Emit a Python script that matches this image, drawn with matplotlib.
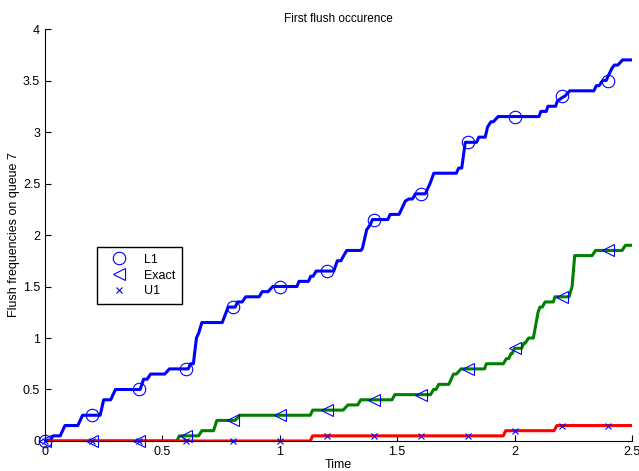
import matplotlib
matplotlib.use("Agg")
import matplotlib.pyplot as plt
from matplotlib.ticker import FormatStrFormatter
import numpy as np

plt.rcParams['font.family'] = ['Liberation Sans', 'DejaVu Sans']

# L1 curve (blue) polyline vertices
l1_t = [0, 0.02, 0.035, 0.065, 0.085, 0.14, 0.16, 0.235, 0.25, 0.28, 0.30, 0.405, 0.42, 0.435, 0.45, 0.51,
        0.53, 0.61, 0.62, 0.632, 0.645, 0.655, 0.668, 0.755, 0.78, 0.81, 0.82, 0.84, 0.855, 0.912, 0.925,
        0.95, 0.97, 1.073, 1.082, 1.122, 1.132, 1.142, 1.155, 1.23, 1.245, 1.26, 1.285, 1.345, 1.352, 1.37,
        1.385, 1.395, 1.46, 1.47, 1.508, 1.535, 1.55, 1.565, 1.578, 1.62, 1.64, 1.656, 1.752, 1.762, 1.775,
        1.79, 1.838, 1.848, 1.875, 1.885, 1.9, 1.91, 1.93, 2.104, 2.112, 2.135, 2.142, 2.175, 2.182, 2.2,
        2.215, 2.235, 2.338, 2.348, 2.36, 2.375, 2.39, 2.4, 2.415, 2.425, 2.44, 2.46, 2.5]
l1_v = [0, 0, 0.05, 0.05, 0.15, 0.15, 0.25, 0.25, 0.4, 0.4, 0.5, 0.5, 0.6, 0.6, 0.65, 0.65,
        0.7, 0.7, 0.75, 0.75, 1.0, 1.05, 1.15, 1.15, 1.3, 1.3, 1.35, 1.35, 1.4, 1.4, 1.45,
        1.45, 1.5, 1.5, 1.55, 1.55, 1.6, 1.6, 1.65, 1.65, 1.75, 1.75, 1.85, 1.85, 1.87, 2.05,
        2.1, 2.15, 2.15, 2.2, 2.2, 2.33, 2.35, 2.35, 2.4, 2.4, 2.5, 2.6, 2.6, 2.65, 2.65,
        2.9, 2.9, 2.95, 2.95, 3.05, 3.1, 3.1, 3.15, 3.15, 3.2, 3.2, 3.25, 3.25, 3.3, 3.33,
        3.35, 3.4, 3.4, 3.45, 3.45, 3.5, 3.5, 3.55, 3.62, 3.65, 3.65, 3.7, 3.7]

# Exact curve (green)
ex_t = [0, 0.562, 0.572, 0.654, 0.668, 0.718, 0.732, 0.81, 0.83, 1.13, 1.14, 1.27, 1.29, 1.332, 1.345,
        1.478, 1.49, 1.642, 1.655, 1.665, 1.677, 1.72, 1.74, 1.752, 1.772, 1.872, 1.88, 1.952, 1.965,
        1.975, 1.985, 1.99, 2.0, 2.03, 2.04, 2.045, 2.06, 2.08, 2.088, 2.1, 2.108, 2.118, 2.13, 2.165,
        2.172, 2.232, 2.245, 2.256, 2.33, 2.345, 2.458, 2.472, 2.5]
ex_v = [0, 0, 0.05, 0.05, 0.1, 0.1, 0.2, 0.2, 0.25, 0.25, 0.3, 0.3, 0.35, 0.35, 0.4,
        0.4, 0.45, 0.45, 0.5, 0.5, 0.55, 0.55, 0.65, 0.65, 0.7, 0.7, 0.75, 0.75, 0.8,
        0.8, 0.85, 0.85, 0.9, 0.9, 0.95, 0.95, 1.0, 1.0, 1.1, 1.25, 1.3, 1.3, 1.35, 1.35,
        1.4, 1.4, 1.5, 1.8, 1.8, 1.85, 1.85, 1.9, 1.9]

# U1 curve (red)
u1_t = [0, 1.13, 1.14, 1.952, 1.962, 2.168, 2.18, 2.5]
u1_v = [0, 0, 0.05, 0.05, 0.1, 0.1, 0.15, 0.15]

# Marker samples
mk_t = [0, 0.2, 0.4, 0.6, 0.8, 1.0, 1.2, 1.4, 1.6, 1.8, 2.0, 2.2, 2.4]
mk_l1 = [0, 0.25, 0.5, 0.7, 1.3, 1.5, 1.65, 2.15, 2.4, 2.9, 3.15, 3.35, 3.5]
mk_ex = [0, 0, 0, 0.05, 0.2, 0.25, 0.3, 0.4, 0.45, 0.7, 0.9, 1.4, 1.85]
mk_u1 = [0, 0, 0, 0, 0, 0, 0.05, 0.05, 0.05, 0.05, 0.1, 0.15, 0.15]

fig = plt.figure(figsize=(6.39, 4.71), dpi=100)
ax = fig.add_axes([0.0704, 0.0637, 0.9186, 0.8747])

lw = 2.2
ax.plot(l1_t, l1_v, color=(0, 0, 1), lw=lw)
ax.plot(ex_t, ex_v, color=(0, 0.5, 0), lw=lw)
ax.plot(u1_t, u1_v, color=(1, 0, 0), lw=lw)

ax.plot(mk_t, mk_l1, ls='none', marker='o', ms=9, mfc='none', mec=(0, 0, 1), mew=0.8, label='L1', clip_on=False)
ax.plot(mk_t, mk_ex, ls='none', marker='<', ms=9, mfc='none', mec=(0, 0, 1), mew=0.8, label='Exact', clip_on=False)
ax.plot(mk_t, mk_u1, ls='none', marker='x', ms=4, mfc='none', mec=(0, 0, 1), mew=0.8, label='U1', clip_on=False)

ax.set_xlim(0, 2.5)
ax.set_ylim(0, 4)
ax.set_xticks(np.arange(0, 2.51, 0.5))
ax.set_yticks(np.arange(0, 4.01, 0.5))
ax.xaxis.set_major_formatter(FormatStrFormatter('%g'))
ax.yaxis.set_major_formatter(FormatStrFormatter('%g'))
ax.tick_params(direction='in', length=4, width=0.8, labelsize=9, colors='black')
for s in ['top', 'right']:
    ax.spines[s].set_visible(False)
for s in ['left', 'bottom']:
    ax.spines[s].set_linewidth(0.8)

ax.set_title('First flush occurence', fontsize=8.5, pad=5)
ax.set_xlabel('Time', fontsize=9, labelpad=1)
ax.set_ylabel('Flush frequencies on queue 7', fontsize=9, labelpad=2)

leg = ax.legend(loc='upper left', bbox_to_anchor=(0.089, 0.471), fontsize=9, frameon=True,
                fancybox=False, edgecolor='black', framealpha=1, borderpad=0.55, labelspacing=0.3,
                handletextpad=0.8, handlelength=2.4, borderaxespad=0)
leg.get_frame().set_linewidth(1.0)

fig.savefig('out.png', dpi=100)
